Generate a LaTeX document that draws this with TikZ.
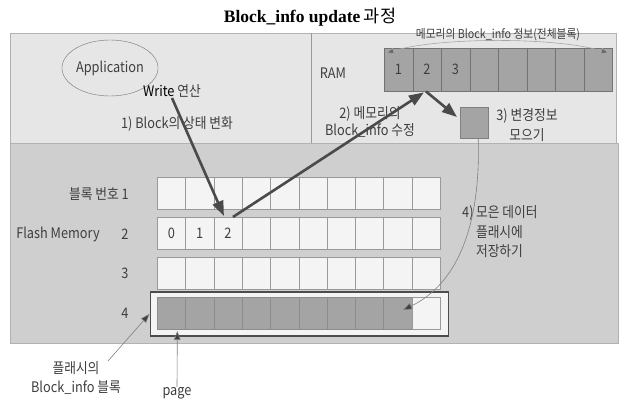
\documentclass[tikz,border=0pt]{standalone}
\usepackage{fontspec}
\setmainfont{Noto Sans CJK KR}[FakeStretch=0.88]
\newfontfamily\titlefont{Liberation Serif}
\newfontfamily\krfont{Noto Sans CJK KR}
\usetikzlibrary{arrows.meta,calc,shapes.geometric}
\definecolor{panelA}{HTML}{E6E6E6}
\definecolor{panelB}{HTML}{CFCFCF}
\definecolor{txt}{HTML}{3E3E3E}
\definecolor{cellw}{HTML}{F4F4F4}
\definecolor{celld}{HTML}{A4A4A4}
\definecolor{arr}{HTML}{4A4A4A}
\tikzset{
  lbl/.style={text=txt, font=\fontsize{14.5}{17}\selectfont, inner sep=0pt},
  small/.style={text=txt, font=\fontsize{12.2}{13}\selectfont, inner sep=0pt},
  wcell/.style={draw=black!40, fill=cellw, minimum width=28.3pt, minimum height=32pt, inner sep=0pt, anchor=north west},
  dcell/.style={draw=black!45, fill=celld, minimum width=28.3pt, minimum height=32pt, inner sep=0pt, anchor=north west},
  ramcell/.style={draw=black!55, fill=celld, minimum width=28.5pt, minimum height=43pt, inner sep=0pt, anchor=north west, lbl},
  bigarrow/.style={draw=arr, line width=2.6pt, -{Triangle[length=15pt,width=11pt]}},
  thinarrow/.style={draw=black!50, line width=0.6pt, -{Triangle[length=9pt,width=6.5pt,fill=black!75]}},
}
\begin{document}
\begin{tikzpicture}[x=1pt,y=-1pt]
\useasboundingbox (0,0) rectangle (624,401);
% panels
\fill[panelA, draw=black!30] (10,33) rectangle (616,143);
\draw[black!40] (311,33) -- (311,143);
\fill[panelB, draw=black!30] (10,143) rectangle (618,343);
% title
\node (title) at (310,17) {\fontsize{17.5}{20}\selectfont{\titlefont\bfseries Block\_info update} {\krfont\mdseries 과정}};
% application
\node[ellipse, draw=black!55, minimum width=96pt, minimum height=56pt, lbl] (app) at (110,68) {Application};
\node[lbl] (write) at (172,91) {{\color{black}Write} 연산};
\node[lbl] (lab1) at (177,124) {1) Block의 상태 변화};
% RAM
\node[lbl] (ramlbl) at (333,73) {RAM};
\foreach \c in {1,...,8}{
  \node[ramcell] (ram-\c) at ({384+(\c-1)*28.5},48) {\ifnum\c<4 \c\fi};
}
\node[small] (memlbl) at (498,35) {메모리의 Block\_info 정보(전체블록)};
\coordinate (arcL) at (386,53);
\coordinate (arcR) at (609,53);
\draw[draw=black!35, line width=0.6pt, {Triangle[length=8pt,width=6pt,fill=black!60]}-{Triangle[length=8pt,width=6pt,fill=black!60]}] (arcL) .. controls (440,37) and (555,37) .. (arcR);
\node[lbl, align=center, font=\fontsize{14.5}{17}\selectfont] (lab2) at (370,122) {2) 메모리의\\Block\_info 수정};
% change box
\node[draw=black!50, fill=celld, minimum width=28pt, minimum height=31pt, inner sep=0pt, anchor=north west] (box3) at (460,107) {};
\node[lbl, align=center, font=\fontsize{14.5}{20}\selectfont] (lab3) at (527,125) {3) 변경정보\\모으기};
% flash rows
\foreach \r/\y in {1/177,2/217,3/257}{
  \foreach \c in {1,...,10}{
    \node[wcell, lbl] (r\r-\c) at ({157+(\c-1)*28.3},\y) {\ifnum\r=2 \ifnum\c<4 \the\numexpr\c-1\relax\fi\fi};
  }
}
\node[draw=black!70, line width=1.8pt, fill=cellw, minimum width=298pt, minimum height=44pt, inner sep=0pt, anchor=north west] (outer) at (149.5,291) {};
\foreach \c in {1,...,9}{
  \node[dcell] (r4-\c) at ({157+(\c-1)*28.3},297) {};
}
\node[wcell] (r4-10) at ({157+9*28.3},297) {};
% row labels
\node[lbl, anchor=east] (blk) at (129,194) {블록 번호 1};
\node[lbl] (flash) at (58,234) {Flash Memory};
\node[lbl] (n2) at (125,234) {2};
\node[lbl] (n3) at (125,273) {3};
\node[lbl] (n4) at (125,313) {4};
% step 4 label
\node[lbl, anchor=west, align=left, font=\fontsize{14.5}{19.5}\selectfont] (lab4) at (462,232) {4)\,모은 데이터\\\hphantom{4)\,}플래시에\\\hphantom{4)\,}저장하기};
% bottom labels
\node[lbl, align=center, font=\fontsize{14.5}{19}\selectfont] (fbi) at (76,378) {플래시의\\Block\_info 블록};
\node[lbl] (page) at (177,393) {page};
% arrows
\coordinate (a1s) at (172,98);
\draw[bigarrow] (a1s) -- ($(r2-3.north)+(-4,-1)$);
\draw[bigarrow] ($(r2-3.north)+(5,0)$) -- ($(ram-2.south)+(-3,1)$);
\draw[bigarrow] ($(ram-2.south)+(-1,0)$) -- ($(box3.north west)+(-3,10)$);
\coordinate (c4end) at (403,310);
\draw[thinarrow] ($(box3.south)+(4,0)$) .. controls (481,230) and (455,285) .. (c4end);
\coordinate (bls) at (108,361);
\draw[thinarrow] (bls) -- (outer.west);
\draw[thinarrow] (page.north) -- ($(r4-1.south)+(6,1.5)$);
\end{tikzpicture}
\end{document}
